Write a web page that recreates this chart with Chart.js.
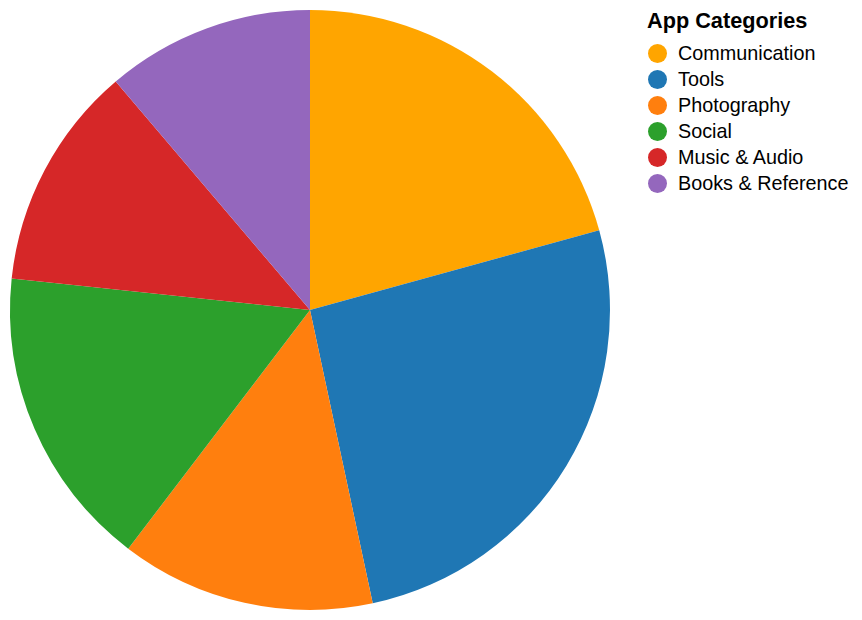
<!DOCTYPE html>
<html>
<head>
<meta charset="utf-8">
<script src="https://cdn.jsdelivr.net/npm/chart.js@4"></script>
<style>
  html, body { margin: 0; padding: 0; background: #fff; }
  #wrap { position: relative; width: 862px; height: 620px; }
  #box { position: absolute; left: 0; top: 0; width: 620px; height: 620px; }
  #legend { position: absolute; left: 647px; top: 8px; font-family: "Liberation Sans", Arial, Helvetica, sans-serif; color: #000; }
  #legend .title { font-weight: bold; font-size: 21.7px; height: 32px; line-height: 26px; }
  #legend .item { height: 26px; display: flex; align-items: center; font-size: 19.8px; }
  #legend .dot { width: 19px; height: 19px; border-radius: 50%; margin-left: 1px; margin-right: 11px; }
</style>
</head>
<body>
<div id="wrap">
  <div id="box"><canvas id="pie"></canvas></div>
  <div id="legend"></div>
</div>
<script>
const categories = ['Communication', 'Tools', 'Photography', 'Social', 'Music & Audio', 'Books & Reference'];
const shares = [20.7, 25.9, 13.7, 16.3, 12.1, 11.2];
const colors = ['#ffa500', '#1f77b4', '#ff7f0e', '#2ca02c', '#d62728', '#9467bd'];

const legend = document.getElementById('legend');
let html = '<div class="title">App Categories</div>';
categories.forEach((c, i) => {
  html += '<div class="item"><span class="dot" style="background:' + colors[i] + '"></span>' +
    c.replace('&', '&amp;') + '</div>';
});
legend.innerHTML = html;

const ctx = document.getElementById('pie').getContext('2d');
new Chart(ctx, {
  type: 'pie',
  data: {
    labels: categories,
    datasets: [{
      data: shares,
      backgroundColor: colors,
      borderWidth: 0
    }]
  },
  options: {
    responsive: true,
    maintainAspectRatio: false,
    animation: false,
    layout: { padding: 10 },
    plugins: {
      legend: { display: false },
      tooltip: { enabled: false }
    }
  }
});
</script>
</body>
</html>
